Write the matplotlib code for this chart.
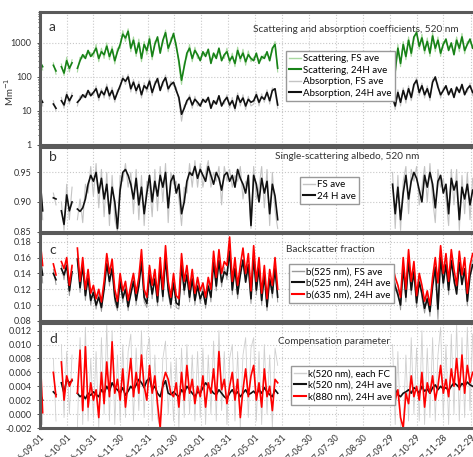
import matplotlib.pyplot as plt
import matplotlib.dates as mdates
import matplotlib.ticker as mticker
from matplotlib.lines import Line2D
import numpy as np
import pandas as pd

plt.rcParams['font.family'] = ['Lato', 'DejaVu Sans']

nan = np.nan

# sampling times: 3-day steps, Sep 2016 - May 2017 and Oct - Dec 2017
t1 = pd.date_range('2016-09-01', periods=90, freq='3D')
t2 = pd.date_range('2017-10-02', periods=31, freq='3D')

tick_dates = ['2016-09-01', '2016-10-01', '2016-10-31', '2016-11-30', '2016-12-31',
              '2017-01-30', '2017-03-01', '2017-03-31', '2017-05-01', '2017-05-31',
              '2017-06-30', '2017-07-30', '2017-08-30', '2017-09-29', '2017-10-29',
              '2017-11-28', '2017-12-29']

# (a) scattering and absorption, Mm-1
sca_1 = [280, 200, nan, nan, nan, 220, 150, nan, 200, 130, 300, 180, 260, nan,
         180, 300, 450, 350, 600, 400,
         500, 700, 350, 550, 450, 800, 400, 650, 300, 550,
         900, 1800, 1400, 2200, 700, 1200, 500, 1000, 350, 900,
         600, 1300, 400, 900, 1500, 500, 1200, 2000, 700, 1100,
         1900, 800, 300, 80, 200, 500, 700, 350, 600, 450,
         300, 550, 400, 650, 250, 500, 350, 700, 300, 450,
         550, 300, 400, 250, 600, 350, 500, 280, 450, 350,
         300, 500, 250, 400, 350, 550, 300, 700, 900, 180]
sca_2 = [400, 150, 700, 250, 900, 400, 1200, 500, 1500, 2000,
         800, 1400, 600, 1100, 500, 1600, 700, 1200, 500, 900,
         1300, 600, 1000, 450, 1200, 700, 1500, 600, 900, 1300, 700]
sca_fs_1 = [350, 160, nan, nan, nan, 260, 120, nan, 240, 110, 380, 140, 320, nan,
            140, 380, 360, 450, 480, 520,
            380, 900, 280, 700, 350, 1000, 320, 800, 240, 700,
            700, 2300, 1100, 2600, 550, 1500, 400, 1300, 280, 1100,
            450, 1600, 320, 1100, 1300, 650, 950, 2400, 550, 1400,
            1500, 1000, 220, 60, 260, 380, 900, 280, 750, 350,
            380, 420, 520, 500, 320, 380, 450, 550, 380, 350,
            700, 240, 500, 200, 750, 280, 650, 220, 580, 280,
            380, 400, 320, 320, 450, 450, 380, 550, 1100, 140]
sca_fs_2 = [500, 110, 900, 200, 1100, 320, 1500, 400, 1200, 2500,
            650, 1800, 480, 1400, 400, 2000, 550, 1500, 400, 1100,
            1000, 750, 800, 550, 1500, 550, 1900, 480, 1100, 1000, 850]
abs_1 = [25, 18, nan, nan, nan, 16, 12, nan, 20, 15, 30, 20, 28, nan,
         18, 22, 30, 25, 40, 28,
         35, 45, 25, 38, 30, 50, 28, 40, 22, 35,
         55, 90, 75, 100, 45, 70, 40, 60, 30, 55,
         45, 75, 35, 60, 90, 40, 70, 95, 45, 60,
         70, 40, 25, 8, 12, 20, 25, 15, 22, 18,
         14, 22, 18, 25, 12, 20, 16, 28, 14, 20,
         25, 15, 20, 12, 28, 18, 24, 14, 22, 18,
         20, 30, 18, 26, 22, 35, 20, 40, 45, 15]
abs_2 = [25, 14, 35, 18, 40, 22, 45, 25, 60, 80,
         35, 55, 30, 45, 25, 70, 100, 50, 30, 40,
         55, 30, 45, 25, 50, 35, 60, 30, 45, 55, 35]
abs_fs_1 = [30, 14, nan, nan, nan, 20, 10, nan, 25, 12, 36, 16, 34, nan,
            14, 28, 24, 32, 30, 35,
            28, 55, 20, 45, 24, 62, 22, 50, 18, 42,
            45, 110, 60, 120, 36, 85, 32, 75, 24, 68,
            36, 90, 28, 75, 70, 50, 55, 115, 36, 75,
            55, 50, 20, 5, 15, 16, 30, 12, 27, 14,
            17, 18, 22, 20, 15, 16, 20, 22, 17, 16,
            30, 12, 25, 10, 34, 14, 30, 11, 27, 14,
            16, 37, 14, 32, 18, 42, 16, 48, 36, 12]
abs_fs_2 = [30, 11, 42, 14, 48, 17, 55, 20, 48, 95,
            28, 66, 24, 55, 20, 85, 80, 62, 24, 48,
            45, 36, 36, 30, 40, 42, 48, 36, 36, 66, 28]

# (b) single-scattering albedo
ssa_1 = [0.940, 0.885, nan, nan, nan, 0.907, 0.905, nan, 0.885, 0.862, 0.912, 0.885, 0.900, nan,
         0.888, 0.884, 0.890, 0.905, 0.930, 0.945,
         0.935, 0.950, 0.915, 0.940, 0.905, 0.930, 0.880, 0.925, 0.900, 0.855,
         0.920, 0.950, 0.955, 0.945, 0.930, 0.905, 0.940, 0.895, 0.925, 0.880,
         0.915, 0.945, 0.900, 0.935, 0.910, 0.945, 0.925, 0.950, 0.890, 0.935,
         0.945, 0.915, 0.930, 0.880, 0.900, 0.935, 0.950, 0.945, 0.960, 0.940,
         0.955, 0.945, 0.935, 0.960, 0.945, 0.930, 0.950, 0.940, 0.920, 0.945,
         0.950, 0.935, 0.945, 0.925, 0.955, 0.940, 0.930, 0.915, 0.945, 0.860,
         0.945, 0.930, 0.900, 0.940, 0.915, 0.935, 0.880, 0.930, 0.910, 0.870]
ssa_2 = [0.930, 0.880, 0.925, 0.870, 0.915, 0.945, 0.905, 0.935, 0.950, 0.940,
         0.920, 0.900, 0.945, 0.925, 0.950, 0.930, 0.890, 0.935, 0.945, 0.915,
         0.930, 0.880, 0.940, 0.920, 0.935, 0.870, 0.925, 0.905, 0.930, 0.895, 0.920]
ssa_fs_1 = [0.950, 0.870, nan, nan, nan, 0.915, 0.895, nan, 0.900, 0.852, 0.930, 0.870, 0.925, nan,
            0.870, 0.905, 0.865, 0.930, 0.915, 0.960,
            0.910, 0.965, 0.890, 0.955, 0.875, 0.950, 0.860, 0.945, 0.870, 0.850,
            0.945, 0.935, 0.965, 0.925, 0.950, 0.880, 0.955, 0.870, 0.945, 0.860,
            0.935, 0.930, 0.875, 0.955, 0.885, 0.960, 0.900, 0.965, 0.865, 0.950,
            0.930, 0.935, 0.905, 0.860, 0.925, 0.915, 0.965, 0.925, 0.970, 0.925,
            0.965, 0.925, 0.950, 0.970, 0.925, 0.950, 0.935, 0.960, 0.895, 0.960,
            0.935, 0.955, 0.925, 0.945, 0.935, 0.960, 0.905, 0.935, 0.925, 0.855,
            0.960, 0.905, 0.925, 0.960, 0.890, 0.955, 0.860, 0.950, 0.885, 0.855]
ssa_fs_2 = [0.950, 0.855, 0.945, 0.852, 0.935, 0.960, 0.880, 0.955, 0.935, 0.960,
            0.895, 0.925, 0.960, 0.900, 0.965, 0.905, 0.865, 0.955, 0.925, 0.940,
            0.905, 0.860, 0.955, 0.895, 0.955, 0.852, 0.945, 0.880, 0.950, 0.870, 0.940]

# (c) backscatter fraction
b635_1 = [0.183, 0.150, nan, nan, nan, 0.152, 0.138, nan, 0.155, 0.146, 0.160, 0.125, 0.150, nan,
          0.172, 0.130, 0.160, 0.120, 0.145, 0.115,
          0.125, 0.108, 0.120, 0.104, 0.130, 0.165, 0.140, 0.158, 0.120, 0.105,
          0.140, 0.118, 0.130, 0.106, 0.125, 0.140, 0.115, 0.135, 0.170, 0.120,
          0.110, 0.150, 0.125, 0.145, 0.112, 0.160, 0.120, 0.175, 0.130, 0.110,
          0.140, 0.112, 0.108, 0.165, 0.130, 0.150, 0.120, 0.145, 0.115, 0.135,
          0.118, 0.128, 0.110, 0.135, 0.120, 0.168, 0.135, 0.170, 0.140, 0.155,
          0.150, 0.186, 0.130, 0.160, 0.125, 0.150, 0.172, 0.140, 0.165, 0.118,
          0.175, 0.130, 0.160, 0.115, 0.150, 0.108, 0.145, 0.125, 0.160, 0.120]
b635_2 = [0.150, 0.135, 0.125, 0.110, 0.160, 0.120, 0.170, 0.130, 0.155, 0.112,
          0.140, 0.125, 0.105, 0.118, 0.100, 0.135, 0.160, 0.128, 0.175, 0.140,
          0.165, 0.130, 0.170, 0.145, 0.125, 0.168, 0.138, 0.160, 0.115, 0.150, 0.165]
b525_1 = [0.160, 0.138, nan, nan, nan, 0.140, 0.132, nan, 0.146, 0.138, 0.150, 0.118, 0.142, nan,
          0.158, 0.122, 0.150, 0.112, 0.134, 0.106,
          0.116, 0.100, 0.110, 0.097, 0.120, 0.152, 0.130, 0.146, 0.110, 0.097,
          0.130, 0.109, 0.120, 0.098, 0.114, 0.130, 0.106, 0.124, 0.155, 0.110,
          0.102, 0.138, 0.114, 0.133, 0.104, 0.147, 0.111, 0.160, 0.120, 0.101,
          0.128, 0.103, 0.100, 0.150, 0.119, 0.138, 0.110, 0.133, 0.106, 0.124,
          0.108, 0.117, 0.101, 0.124, 0.110, 0.154, 0.124, 0.156, 0.129, 0.142,
          0.138, 0.168, 0.119, 0.146, 0.114, 0.138, 0.157, 0.129, 0.151, 0.108,
          0.160, 0.119, 0.147, 0.106, 0.138, 0.098, 0.133, 0.115, 0.146, 0.110]
b525_2 = [0.140, 0.124, 0.113, 0.100, 0.148, 0.110, 0.156, 0.119, 0.142, 0.103,
          0.129, 0.115, 0.096, 0.108, 0.092, 0.124, 0.148, 0.095, 0.160, 0.128,
          0.151, 0.119, 0.156, 0.133, 0.114, 0.154, 0.126, 0.146, 0.105, 0.137, 0.151]
b525_fs_1 = [0.170, 0.128, nan, nan, nan, 0.145, 0.126, nan, 0.150, 0.132, 0.156, 0.112, 0.148, nan,
             0.164, 0.116, 0.156, 0.106, 0.140, 0.100,
             0.122, 0.095, 0.116, 0.092, 0.126, 0.158, 0.124, 0.152, 0.104, 0.093,
             0.136, 0.103, 0.126, 0.093, 0.120, 0.136, 0.100, 0.130, 0.161, 0.104,
             0.097, 0.144, 0.108, 0.139, 0.099, 0.153, 0.105, 0.166, 0.114, 0.096,
             0.134, 0.097, 0.095, 0.156, 0.113, 0.144, 0.104, 0.139, 0.100, 0.130,
             0.102, 0.123, 0.096, 0.130, 0.104, 0.160, 0.118, 0.162, 0.123, 0.148,
             0.132, 0.174, 0.113, 0.152, 0.108, 0.144, 0.151, 0.135, 0.145, 0.102,
             0.166, 0.113, 0.153, 0.100, 0.144, 0.093, 0.139, 0.109, 0.152, 0.104]
b525_fs_2 = [0.146, 0.118, 0.119, 0.094, 0.154, 0.104, 0.162, 0.113, 0.148, 0.097,
             0.135, 0.109, 0.090, 0.114, 0.086, 0.130, 0.142, 0.082, 0.166, 0.122,
             0.157, 0.113, 0.162, 0.127, 0.120, 0.148, 0.132, 0.140, 0.099, 0.143, 0.157]

# (d) compensation parameter
k880_1 = [0.0090, 0.0002, nan, nan, nan, 0.0060, 0.0025, nan, 0.0075, 0.0020, 0.0055, 0.0040, 0.0050, nan,
          0.0030, 0.0092, 0.0005, 0.0097, 0.0010, 0.0045,
          0.0020, 0.0035, -0.0005, 0.0060, 0.0015, 0.0075, 0.0025, 0.0104, 0.0030, 0.0050,
          0.0020, 0.0065, 0.0010, 0.0045, 0.0080, 0.0025, 0.0060, 0.0030, 0.0085, 0.0040,
          0.0020, 0.0070, 0.0030, 0.0055, 0.0015, -0.0020, 0.0045, 0.0060, 0.0050, 0.0030,
          0.0025, 0.0045, 0.0010, 0.0060, 0.0020, 0.0070, 0.0030, 0.0050, 0.0015, 0.0040,
          0.0025, 0.0055, 0.0010, 0.0045, 0.0030, 0.0065, 0.0020, 0.0090, 0.0035, 0.0050,
          0.0015, 0.0040, 0.0060, 0.0020, 0.0050, -0.0005, 0.0035, 0.0065, 0.0025, 0.0055,
          0.0070, 0.0020, 0.0045, 0.0010, 0.0065, 0.0025, 0.0040, 0.0005, 0.0050, 0.0045]
k880_2 = [0.0050, 0.0020, 0.0035, -0.0005, -0.0020, 0.0030, 0.0015, 0.0055, 0.0025, 0.0040,
          0.0020, 0.0060, 0.0010, 0.0045, 0.0030, 0.0055, 0.0020, 0.0040, 0.0070, 0.0030,
          0.0050, 0.0025, 0.0065, 0.0040, 0.0080, 0.0035, 0.0085, 0.0030, 0.0070, 0.0045, 0.0060]
k520_1 = [0.0030, 0.0020, nan, nan, nan, 0.0032, 0.0028, nan, 0.0045, 0.0030, 0.0050, 0.0045, 0.0048, nan,
          0.0030, 0.0025, 0.0028, 0.0022, 0.0030, 0.0027,
          0.0032, 0.0028, 0.0025, 0.0035, 0.0030, 0.0040, 0.0033, 0.0045, 0.0038, 0.0035,
          0.0030, 0.0038, 0.0027, 0.0033, 0.0040, 0.0035, 0.0042, 0.0050, 0.0045, 0.0038,
          0.0048, 0.0052, 0.0035, 0.0040, 0.0030, 0.0025, 0.0040, 0.0048, 0.0030, 0.0028,
          0.0032, 0.0028, 0.0025, 0.0035, 0.0030, 0.0040, 0.0035, 0.0030, 0.0025, 0.0032,
          0.0030, 0.0038, 0.0045, 0.0040, 0.0035, 0.0030, 0.0028, 0.0035, 0.0030, 0.0025,
          0.0022, 0.0030, 0.0035, 0.0028, 0.0032, 0.0025, 0.0030, 0.0035, 0.0028, 0.0030,
          0.0033, 0.0028, 0.0035, 0.0030, 0.0038, 0.0032, 0.0028, 0.0025, 0.0035, 0.0030]
k520_2 = [0.0040, 0.0035, 0.0028, 0.0025, 0.0030, 0.0032, 0.0035, 0.0030, 0.0038, 0.0035,
          0.0030, 0.0040, 0.0033, 0.0036, 0.0030, 0.0038, 0.0042, 0.0035, 0.0040, 0.0036,
          0.0038, 0.0034, 0.0040, 0.0045, 0.0042, 0.0038, 0.0044, 0.0040, 0.0046, 0.0042, 0.0040]
k520_fc_1 = [0.0120, -0.0015, nan, nan, nan, 0.0080, -0.0010, nan, 0.0100, -0.0005, 0.0090, 0.0000, 0.0085, nan,
             -0.0020, 0.0110, -0.0015, 0.0125, -0.0010, 0.0080,
             -0.0005, 0.0090, -0.0020, 0.0110, 0.0000, 0.0130, -0.0010, 0.0120, -0.0015, 0.0085,
             -0.0010, 0.0100, -0.0005, 0.0090, 0.0115, -0.0010, 0.0095, 0.0005, 0.0120, -0.0005,
             0.0090, 0.0110, -0.0010, 0.0085, -0.0005, -0.0020, 0.0080, 0.0105, 0.0000, 0.0075,
             -0.0010, 0.0080, -0.0020, 0.0095, -0.0005, 0.0100, 0.0000, 0.0085, -0.0010, 0.0090,
             -0.0005, 0.0095, -0.0015, 0.0085, 0.0000, 0.0105, -0.0010, 0.0120, 0.0005, 0.0090,
             -0.0015, 0.0080, 0.0100, -0.0010, 0.0090, -0.0020, 0.0085, 0.0110, -0.0005, 0.0095,
             0.0110, -0.0010, 0.0090, -0.0015, 0.0100, 0.0000, 0.0085, -0.0020, 0.0095, 0.0070]
k520_fc_2 = [0.0100, -0.0015, 0.0090, -0.0020, -0.0020, 0.0085, -0.0010, 0.0110, 0.0000, 0.0095,
             -0.0010, 0.0120, -0.0015, 0.0095, -0.0005, 0.0110, -0.0010, 0.0085, 0.0125, -0.0005,
             0.0100, -0.0015, 0.0115, 0.0000, 0.0130, -0.0010, 0.0110, -0.0005, 0.0125, 0.0005, 0.0115]

GREEN = '#178217'
LGREEN = '#a8d8a0'
LGRAY = '#c4c4c4'
FRAME = '#5a5a5a'

W, H = 473, 457
fig = plt.figure(figsize=(W / 100, H / 100), dpi=100)

left = 40 / W
right = 1.02
# top / bottom edges of each panel in pixels
rows = [(12, 145), (147, 231.5), (233, 321), (323, 428)]
axes = []
for top, bot in rows:
    ax = fig.add_axes([left, 1 - bot / H, right - left, (bot - top) / H])
    axes.append(ax)

tks = pd.to_datetime(tick_dates)
xmin, xmax = pd.Timestamp('2016-09-01'), pd.Timestamp('2018-01-11')

for ax in axes:
    ax.set_xlim(xmin, xmax)
    ax.set_xticks(tks)
    ax.grid(True, which='major', color='#c8c8c8', linestyle=':', linewidth=0.8)
    for s in ax.spines.values():
        s.set_color(FRAME)
        s.set_linewidth(2.2)
    ax.tick_params(axis='both', labelsize=6.5, colors='#333333', length=2.5, width=0.6)
    ax.tick_params(axis='x', length=0)
for ax in axes[:3]:
    ax.set_xticklabels([])

axes[3].xaxis.set_major_formatter(mdates.DateFormatter('%Y-%m-%d'))
for lab in axes[3].get_xticklabels():
    lab.set_rotation(45)
    lab.set_ha('right')
    lab.set_rotation_mode('anchor')

# (a)
ax = axes[0]
for t, fs, av in [(t1, sca_fs_1, sca_1), (t2, sca_fs_2, sca_2)]:
    ax.plot(t, fs, color=LGREEN, lw=0.8)
    ax.plot(t, av, color=GREEN, lw=1.2)
for t, fs, av in [(t1, abs_fs_1, abs_1), (t2, abs_fs_2, abs_2)]:
    ax.plot(t, fs, color=LGRAY, lw=0.8)
    ax.plot(t, av, color='#111111', lw=1.2)
ax.set_yscale('log')
ax.set_ylim(1, 8100)
ax.set_yticks([1, 10, 100, 1000])
ax.yaxis.set_major_formatter(mticker.FuncFormatter(lambda v, p: '%d' % v))
ax.yaxis.set_minor_formatter(mticker.NullFormatter())
ax.tick_params(axis='y', which='minor', length=1.5, width=0.5)
fig.text(9 / W, 1 - 92 / H, 'Mm$^{-1}$', fontsize=7, color='#333333', rotation=90,
         ha='center', va='center')
ax.legend(handles=[Line2D([], [], color=LGREEN, lw=1), Line2D([], [], color=GREEN, lw=1.5),
                   Line2D([], [], color=LGRAY, lw=1), Line2D([], [], color='#111111', lw=1.5)],
          labels=['Scattering, FS ave', 'Scattering, 24H ave', 'Absorption, FS ave', 'Absorption, 24H ave'],
          loc='upper left', bbox_to_anchor=(281 / W, 1 - 46 / H), bbox_transform=fig.transFigure,
          fontsize=7, handlelength=1.2, handletextpad=0.2, labelspacing=0.25, borderpad=0.35,
          fancybox=False, framealpha=1, edgecolor='#999999')

# (b)
ax = axes[1]
for t, fs, av in [(t1, ssa_fs_1, ssa_1), (t2, ssa_fs_2, ssa_2)]:
    ax.plot(t, fs, color=LGRAY, lw=0.8)
    ax.plot(t, av, color='#111111', lw=1.2)
ax.set_ylim(0.85, 0.993)
ax.set_yticks([0.85, 0.90, 0.95])
ax.yaxis.set_major_formatter(mticker.FormatStrFormatter('%.2f'))
ax.legend(handles=[Line2D([], [], color=LGRAY, lw=1), Line2D([], [], color='#111111', lw=1.5)],
          labels=['FS ave', '24 H ave'],
          loc='upper left', bbox_to_anchor=(295 / W, 1 - 172 / H), bbox_transform=fig.transFigure,
          fontsize=7, handlelength=1.2, handletextpad=0.2, labelspacing=0.25, borderpad=0.35,
          fancybox=False, framealpha=1, edgecolor='#999999')

# (c)
ax = axes[2]
for t, fs, a525, a635 in [(t1, b525_fs_1, b525_1, b635_1), (t2, b525_fs_2, b525_2, b635_2)]:
    ax.plot(t, fs, color='#9a9a9a', lw=0.7)
    ax.plot(t, a525, color='#111111', lw=1.2)
    ax.plot(t, a635, color='#ff0000', lw=1.2)
ax.set_ylim(0.08, 0.191)
ax.set_yticks([0.08, 0.10, 0.12, 0.14, 0.16, 0.18])
ax.yaxis.set_major_formatter(mticker.FormatStrFormatter('%.2f'))
ax.legend(handles=[Line2D([], [], color='#9a9a9a', lw=1), Line2D([], [], color='#111111', lw=1.5),
                   Line2D([], [], color='#ff0000', lw=1.5)],
          labels=['b(525 nm), FS ave', 'b(525 nm), 24H ave', 'b(635 nm), 24H ave'],
          loc='upper left', bbox_to_anchor=(284 / W, 1 - 259 / H), bbox_transform=fig.transFigure,
          fontsize=7, handlelength=1.2, handletextpad=0.2, labelspacing=0.25, borderpad=0.35,
          fancybox=False, framealpha=1, edgecolor='#999999')

# (d)
ax = axes[3]
for t, fc, a520, a880 in [(t1, k520_fc_1, k520_1, k880_1), (t2, k520_fc_2, k520_2, k880_2)]:
    ax.plot(t, fc, color='#cfcfcf', lw=0.6)
    ax.plot(t, a520, color='#111111', lw=1.2)
    ax.plot(t, a880, color='#ff0000', lw=1.2)
ax.set_ylim(-0.002, 0.0131)
ax.set_yticks(np.arange(-0.002, 0.0121, 0.002))
ax.yaxis.set_major_formatter(mticker.FormatStrFormatter('%.3f'))
ax.legend(handles=[Line2D([], [], color='#cfcfcf', lw=1), Line2D([], [], color='#111111', lw=1.5),
                   Line2D([], [], color='#ff0000', lw=1.5)],
          labels=['k(520 nm), each FC', 'k(520 nm), 24H ave', 'k(880 nm), 24H ave'],
          loc='upper left', bbox_to_anchor=(286 / W, 1 - 361 / H), bbox_transform=fig.transFigure,
          fontsize=7, handlelength=1.2, handletextpad=0.2, labelspacing=0.25, borderpad=0.35,
          fancybox=False, framealpha=1, edgecolor='#999999')

# panel letters and titles
for letter, y in zip('abcd', [27, 157, 250, 339]):
    fig.text(49 / W, 1 - y / H, letter, fontsize=10, color='#333333', va='center')
titles = [('Scattering and absorption coefficients, 520 nm', 356, 29),
          ('Single-scattering albedo, 520 nm', 347, 157),
          ('Backscatter fraction', 330, 249),
          ('Compensation parameter', 334, 341)]
for txt, x, y in titles:
    fig.text(x / W, 1 - y / H, txt, fontsize=7.2, color='#333333', ha='center', va='center')

fig.savefig('out.png', dpi=100)
